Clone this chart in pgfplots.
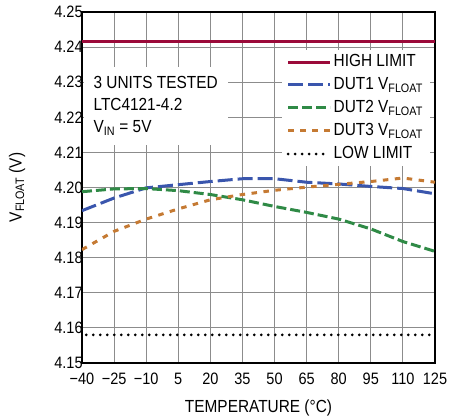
\documentclass[border=0pt]{standalone}
\usepackage{fontspec}
\setmainfont{Liberation Sans}
\newfontfamily\narrow[FakeStretch=0.88]{Liberation Sans}
\usepackage{pgfplots}
\pgfplotsset{compat=1.18}
\definecolor{hicol}{HTML}{9B0A3A}
\definecolor{d1col}{HTML}{3A56AD}
\definecolor{d2col}{HTML}{2F8A46}
\definecolor{d3col}{HTML}{C57A33}
\newcommand{\cf}{\fontsize{15.5}{18}\selectfont}
\newcommand{\nf}{\narrow\fontsize{17.5}{20}\selectfont}
\begin{document}
\cf
\begin{tikzpicture}
\path[use as bounding box] (-82pt,-56pt) rectangle (368pt,363pt);
\begin{axis}[
  scale only axis, width=353pt, height=351pt,
  xmin=-40, xmax=125, ymin=4.15, ymax=4.25,
  xtick={-40,-25,-10,5,20,35,50,65,80,95,110,125},
  xticklabels={−40,−25,−10,5,20,35,50,65,80,95,110,125},
  ytick={4.15,4.16,4.17,4.18,4.19,4.20,4.21,4.22,4.23,4.24,4.25},
  yticklabels={4.15,4.16,4.17,4.18,4.19,4.20,4.21,4.22,4.23,4.24,4.25},
  tick style={draw=none},
  ticklabel style={font=\narrow\fontsize{16.5}{18}\selectfont},
  xticklabel style={yshift=-5pt},
  yticklabel style={xshift=6pt},
  grid=major,
  major grid style={draw=black!45, line width=1pt},
  axis line style={line width=1.6pt},
  xlabel={TEMPERATURE (°C)},
  ylabel={V\textsubscript{FLOAT} (V)},
  label style={font=\nf},
  xlabel style={at={(axis description cs:0.5,-0.128)}, anchor=center},
  ylabel style={at={(axis description cs:-0.184,0.5)}, anchor=center},
  legend style={draw=none, fill=white, at={(rel axis cs:0.986,0.893)}, anchor=north east,
    font=\nf, row sep=4.5pt, inner xsep=5pt, inner ysep=3pt},
  legend cell align=left,
  legend image code/.code={\draw[#1] (0pt,0pt) -- (42pt,0pt);},
]
\addplot[hicol, line width=3pt] coordinates {(-40,4.2417) (125,4.2417)};
\addlegendentry{HIGH LIMIT}
\addplot[d1col, line width=3pt, dash pattern=on 15pt off 5pt] coordinates {
(-40,4.1934) (-25,4.1970) (-10,4.1999) (5,4.2008) (20,4.2017) (35,4.2025)
(50,4.2025) (65,4.2015) (80,4.2010) (95,4.2003) (110,4.1997) (125,4.1982)};
\addlegendentry{DUT1 V\textsubscript{FLOAT}}
\addplot[d2col, line width=3pt, dash pattern=on 10pt off 4pt] coordinates {
(-40,4.1988) (-25,4.1996) (-10,4.1997) (5,4.1991) (20,4.1980) (35,4.1965)
(50,4.1946) (65,4.1929) (80,4.1910) (95,4.1882) (110,4.1846) (125,4.1818)};
\addlegendentry{DUT2 V\textsubscript{FLOAT}}
\addplot[d3col, line width=3pt, dash pattern=on 5.5pt off 6.5pt] coordinates {
(-40,4.1823) (-25,4.1875) (-10,4.1910) (5,4.1939) (20,4.1965) (35,4.1980)
(50,4.1992) (65,4.2001) (80,4.2009) (95,4.2017) (110,4.2027) (125,4.2015)};
\addlegendentry{DUT3 V\textsubscript{FLOAT}}
\addplot[black, line width=3pt, line cap=round, dash pattern=on 0pt off 7pt] coordinates {(-38,4.158) (123,4.158)};
\addlegendentry{LOW LIMIT}
\node[fill=white, anchor=north west, align=left, inner xsep=10pt, inner ysep=10pt,
  font=\narrow\fontsize{17.5}{22}\selectfont] at (rel axis cs:0.004,0.845)
  {3 UNITS TESTED\\LTC4121-4.2\\V\textsubscript{IN} = 5V};
\end{axis}
\end{tikzpicture}
\end{document}
